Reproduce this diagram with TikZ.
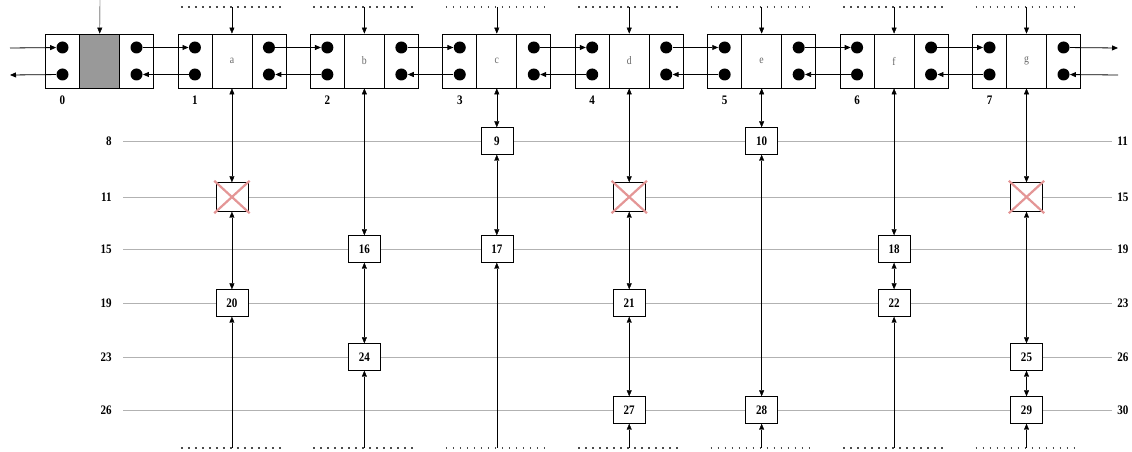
\documentclass[tikz,border=0pt]{standalone}
\usepackage{fontspec}
\setmainfont{Liberation Serif}[FakeStretch=0.85]
\usetikzlibrary{positioning,calc,backgrounds,arrows.meta}
\definecolor{cutred}{RGB}{228,150,150}

\begin{document}
\begin{tikzpicture}[x=1pt,y=1pt,on grid,node distance=37pt,line width=0.8pt,
  >={Triangle[length=6pt,width=5pt]},
  cell/.style={draw,minimum height=54pt,inner sep=0pt},
  side/.style={cell,minimum width=34pt},
  core/.style={cell,minimum width=40pt,font=\fontsize{11.5}{13}\selectfont,text=black!60},
  dot/.style={circle,fill=black,minimum size=12pt,inner sep=0pt},
  num/.style={font=\fontsize{13}{15}\selectfont\bfseries,inner sep=0pt},
  box/.style={draw,fill=white,minimum width=32pt,minimum height=27pt,num},
  cut/.style={box,minimum height=29pt},
  rail/.style={draw=black!30,shorten <=11pt,shorten >=5pt},
  dots/.style={draw=black!70,line width=1.7pt,dash pattern=on 1.7pt off 5.3pt},
  cross/.style={draw=cutred,line width=2.2pt}]
\useasboundingbox (0,0) rectangle (1132,452);

% modules 0..7
\node[core,fill=black!40] (m0) at (99.5,391) {};
\foreach \k/\t in {1/a,2/b,3/c,4/d,5/e,6/f,7/g}
  \node[core] (m\k) at ({99.5+132.43*\k},391) {\t};
\coordinate (top) at (0,445);
\coordinate (bot) at (0,4);
\foreach \k in {0,...,7} {
  \node[side,left=of m\k] (l\k) {};
  \node[side,right=of m\k] (r\k) {};
  \node[dot,above=13.5pt of l\k] (it\k) {};
  \node[dot,below=13.5pt of l\k] (ib\k) {};
  \node[dot,above=13.5pt of r\k] (ot\k) {};
  \node[dot,below=13.5pt of r\k] (ob\k) {};
  \node[num,below=39pt of l\k] {\k};
  \coordinate (t\k) at (m\k|-top);
  \coordinate (s\k) at (m\k|-bot);
}
\coordinate (t0) at (100,452);
\foreach \k in {1,...,7} {
  \draw[dots] ([xshift=-51pt]t\k) -- ([xshift=53pt]t\k);
  \draw[dots] ([xshift=-51pt]s\k) -- ([xshift=53pt]s\k);
}

% links along the chain
\coordinate (wi) at (10,404);
\coordinate (wo) at (10,377);
\coordinate (eo) at (1118,404);
\coordinate (ei) at (1118,377);
\draw[->] (wi) -- (it0);
\draw[->] (ib0) -- (wo);
\foreach \k [count=\j] in {0,...,6} {
  \draw[->] (ot\k) -- (it\j);
  \draw[->] (ib\j) -- (ob\k);
}
\draw[->] (ot7) -- (eo);
\draw[->] (ei) -- (ob7);

% rows
\node[num,anchor=east] (w8) at (112,311) {8};
\node[num,anchor=east] (w11) at (112,255) {11};
\node[num,anchor=east] (w15) at (112,203) {15};
\node[num,anchor=east] (w19) at (112,149) {19};
\node[num,anchor=east] (w23) at (112,95) {23};
\node[num,anchor=east] (w26) at (112,42) {26};
\node[num,anchor=west] (e11) at (1117,311) {11};
\node[num,anchor=west] (e15) at (1117,255) {15};
\node[num,anchor=west] (e19) at (1117,203) {19};
\node[num,anchor=west] (e23) at (1117,149) {23};
\node[num,anchor=west] (e26) at (1117,95) {26};
\node[num,anchor=west] (e30) at (1117,42) {30};
\begin{pgfonlayer}{background}
\draw[rail] (w8) -- (e11);
\draw[rail] (w11) -- (e15);
\draw[rail] (w15) -- (e19);
\draw[rail] (w19) -- (e23);
\draw[rail] (w23) -- (e26);
\draw[rail] (w26) -- (e30);
\end{pgfonlayer}

\node[box,at=(m3|-w8)] (n9) {9};
\node[box,at=(m5|-w8)] (n10) {10};
\node[cut,at=(m1|-w11)] (n12) {};
\node[cut,at=(m4|-w11)] (n13) {};
\node[cut,at=(m7|-w11)] (n14) {};
\node[box,at=(m2|-w15)] (n16) {16};
\node[box,at=(m3|-w15)] (n17) {17};
\node[box,at=(m6|-w15)] (n18) {18};
\node[box,at=(m1|-w19)] (n20) {20};
\node[box,at=(m4|-w19)] (n21) {21};
\node[box,at=(m6|-w19)] (n22) {22};
\node[box,at=(m2|-w23)] (n24) {24};
\node[box,at=(m7|-w23)] (n25) {25};
\node[box,at=(m4|-w26)] (n27) {27};
\node[box,at=(m5|-w26)] (n28) {28};
\node[box,at=(m7|-w26)] (n29) {29};
\foreach \c in {n12,n13,n14}
  \draw[cross] ([shift={(-1.5,1.5)}]\c.north west) -- ([shift={(1.5,-1.5)}]\c.south east)
    ([shift={(-1.5,-1.5)}]\c.south west) -- ([shift={(1.5,1.5)}]\c.north east);

\path[<->]
	(m1) edge (n12)
	(n12) edge (n20)
	(m2) edge (n16)
	(n16) edge (n24)
	(m3) edge (n9)
	(n9) edge (n17)
	(m4) edge (n13)
	(n13) edge (n21)
	(n21) edge (n27)
	(m5) edge (n10)
	(n10) edge (n28)
	(m6) edge (n18)
	(n18) edge (n22)
	(m7) edge (n14)
	(n14) edge (n25)
	(n25) edge (n29)
; %-path-%
\path[->]
	(s1) edge (n20)
	(s2) edge (n24)
	(s3) edge (n17)
	(s4) edge (n27)
	(s5) edge (n28)
	(s6) edge (n22)
	(s7) edge (n29)
;
\foreach \k in {0,...,7}
  \draw[->] (t\k) -- (m\k);
\end{tikzpicture}
\end{document}
